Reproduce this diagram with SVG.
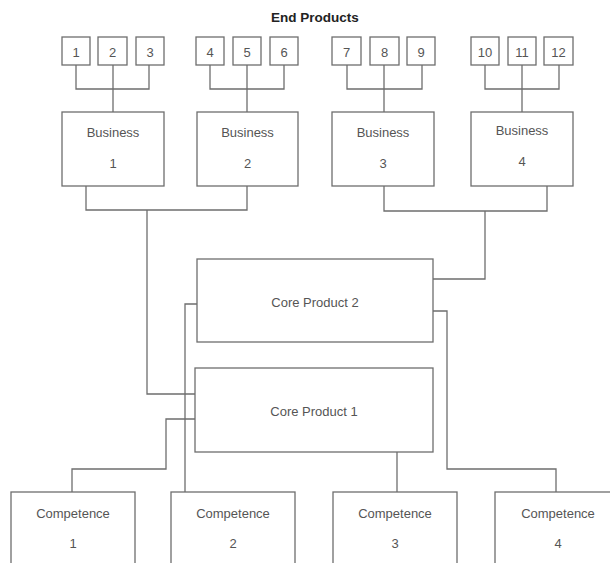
<svg xmlns="http://www.w3.org/2000/svg" width="610" height="563" viewBox="0 0 610 563">
<style>
.box{fill:#fff;stroke:#6e6e6e;stroke-width:1.3}
.ln{fill:none;stroke:#6e6e6e;stroke-width:1.3}
text{font-family:"Liberation Sans",Arial,sans-serif;font-size:13px;fill:#555;text-anchor:middle}
.title{font-weight:bold;font-size:13.5px;fill:#222}
</style>
<rect width="610" height="563" fill="#fff"/>
<text class="title" x="315" y="22">End Products</text>
<g id="connectors">
<path class="ln" d="M76,65V89H149V65M113,65V112"/>
<path class="ln" d="M210,65V89H284V65M247,65V112"/>
<path class="ln" d="M347,65V89H422V65M384,65V112"/>
<path class="ln" d="M485,65V89H559V65M522,65V112"/>
<path class="ln" d="M86,186V210H247V186M147,210V394H195"/>
<path class="ln" d="M384,186V211H547V186M485,211V279H433"/>
<path class="ln" d="M197,304H185V492"/>
<path class="ln" d="M433,311H447V469H556V492"/>
<path class="ln" d="M195,419H166V469H72V492"/>
<path class="ln" d="M397,452V492"/>
</g>
<g id="p1"><rect class="box" x="62" y="37" width="28" height="28"/><text x="76" y="57">1</text></g>
<g id="p2"><rect class="box" x="98" y="37" width="29" height="28"/><text x="112.5" y="57">2</text></g>
<g id="p3"><rect class="box" x="136" y="37" width="28" height="28"/><text x="150" y="57">3</text></g>
<g id="p4"><rect class="box" x="196" y="37" width="28" height="28"/><text x="210" y="57">4</text></g>
<g id="p5"><rect class="box" x="233" y="37" width="28" height="28"/><text x="247" y="57">5</text></g>
<g id="p6"><rect class="box" x="270" y="37" width="28" height="28"/><text x="284" y="57">6</text></g>
<g id="p7"><rect class="box" x="332" y="37" width="29" height="28"/><text x="346.5" y="57">7</text></g>
<g id="p8"><rect class="box" x="370" y="37" width="29" height="28"/><text x="384.5" y="57">8</text></g>
<g id="p9"><rect class="box" x="407" y="37" width="28" height="28"/><text x="421" y="57">9</text></g>
<g id="p10"><rect class="box" x="471" y="37" width="28" height="28"/><text x="485" y="57">10</text></g>
<g id="p11"><rect class="box" x="508" y="37" width="28" height="28"/><text x="522" y="57">11</text></g>
<g id="p12"><rect class="box" x="544" y="37" width="29" height="28"/><text x="558.5" y="57">12</text></g>
<g id="b1"><rect class="box" x="62" y="112" width="102" height="74"/><text x="113" y="137">Business</text><text x="113" y="168">1</text></g>
<g id="b2"><rect class="box" x="197" y="112" width="101" height="74"/><text x="247.5" y="137">Business</text><text x="247.5" y="168">2</text></g>
<g id="b3"><rect class="box" x="332" y="112" width="102" height="74"/><text x="383" y="137">Business</text><text x="383" y="168">3</text></g>
<g id="b4"><rect class="box" x="471" y="112" width="102" height="74"/><text x="522" y="135">Business</text><text x="522" y="166">4</text></g>
<g id="cp2"><rect class="box" x="197" y="259" width="236" height="83"/><text x="315" y="307">Core Product 2</text></g>
<g id="cp1"><rect class="box" x="195" y="368" width="238" height="84"/><text x="314" y="416">Core Product 1</text></g>
<g id="c1"><rect class="box" x="11" y="492" width="124" height="80"/><text x="73" y="518">Competence</text><text x="73" y="548">1</text></g>
<g id="c2"><rect class="box" x="171" y="492" width="124" height="80"/><text x="233" y="518">Competence</text><text x="233" y="548">2</text></g>
<g id="c3"><rect class="box" x="333" y="492" width="124" height="80"/><text x="395" y="518">Competence</text><text x="395" y="548">3</text></g>
<g id="c4"><rect class="box" x="495" y="492" width="125" height="80"/><text x="558" y="518">Competence</text><text x="558" y="548">4</text></g>
</svg>
